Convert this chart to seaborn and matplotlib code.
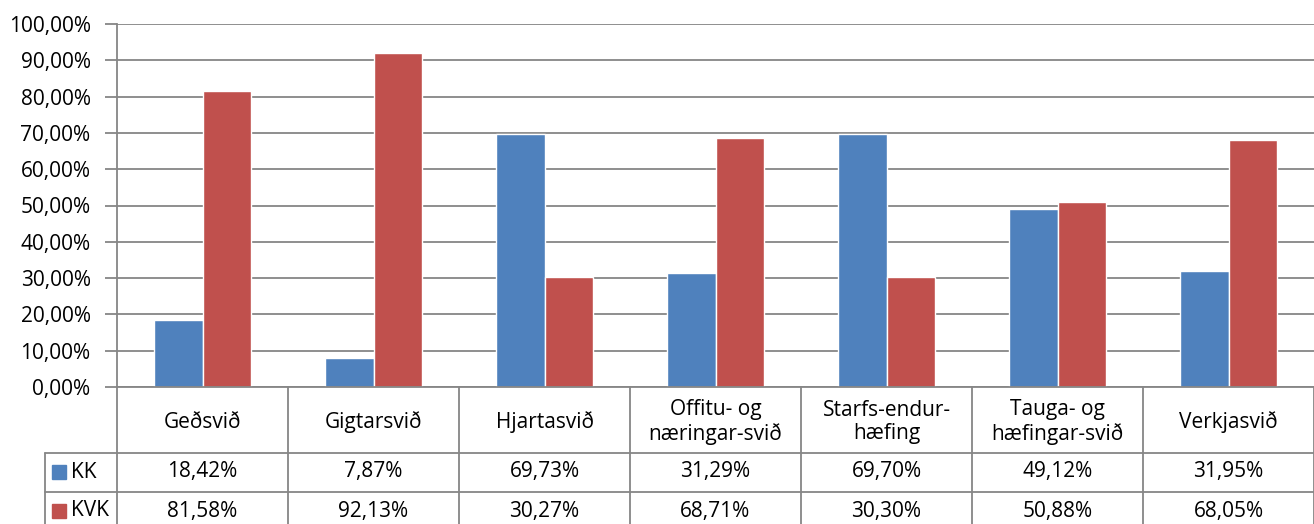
import numpy as np
import pandas as pd
import seaborn as sns
import matplotlib.pyplot as plt

# data
categories = ["Geðsvið", "Gigtarsvið", "Hjartasvið", "Offitu- og\nnæringar-svið",
              "Starfs-endur-\nhæfing", "Tauga- og\nhæfingar-svið", "Verkjasvið"]
kk = [18.42, 7.87, 69.73, 31.29, 69.70, 49.12, 31.95]
kvk = [81.58, 92.13, 30.27, 68.71, 30.30, 50.88, 68.05]
series = ["KK", "KVK"]
colors = ["#4F81BD", "#C0504D"]

df = pd.DataFrame({"cat": categories * 2,
                   "val": kk + kvk,
                   "series": ["KK"] * len(kk) + ["KVK"] * len(kvk)})

sns.set_style("white")
plt.rcParams['font.family'] = ['Open Sans', 'DejaVu Sans']
plt.rcParams['text.color'] = 'black'
plt.rcParams['ytick.labelcolor'] = 'black'
grid_c = "#868686"
fs = 15

W, H = 1314, 524
fig = plt.figure(figsize=(W / 100, H / 100), dpi=100)
left, right, top, bottom = 117, 1314, 24, 387
ax = fig.add_axes([left / W, 1 - bottom / H, (right - left) / W, (bottom - top) / H])

sns.barplot(data=df, x="cat", y="val", hue="series", palette=colors,
            width=0.573, saturation=1, ax=ax, legend=False, gap=0)

ax.set_xlim(-0.5, len(categories) - 0.5)
ax.set_ylim(0, 100)
ax.set_yticks(np.arange(0, 101, 10))
ax.set_yticklabels([f"{v},00%" for v in range(0, 101, 10)], fontsize=fs, color="black")
ax.set_xticks([])
ax.set_xlabel("")
ax.set_ylabel("")
ax.yaxis.grid(True, color=grid_c, lw=1.3)
ax.set_axisbelow(True)
for s in ["top", "right"]:
    ax.spines[s].set_visible(False)
for s in ["left", "bottom"]:
    ax.spines[s].set_color(grid_c)
    ax.spines[s].set_linewidth(1.3)
ax.tick_params(axis="y", left=True, length=9, width=1.3, color=grid_c, pad=10)

# data table below the plot (figure pixel coords)
def fx(px):
    return px / W

def fy(py):
    return 1 - py / H

col_w = (right - left) / len(categories)
row1, row2, row3 = 387, 453, 492
y_kk, y_kvk = 472, 511
line_kw = dict(color=grid_c, lw=1.3, transform=fig.transFigure)
for i in range(len(categories) + 1):
    x = left + i * col_w
    fig.add_artist(plt.Line2D([fx(x), fx(x)], [fy(row1), fy(H)], **line_kw))
fig.add_artist(plt.Line2D([fx(45), fx(45)], [fy(row2), fy(H)], **line_kw))
for y in (row2, row3):
    fig.add_artist(plt.Line2D([fx(45), fx(right)], [fy(y), fy(y)], **line_kw))

for i, c in enumerate(categories):
    cx = left + (i + 0.5) * col_w
    fig.text(fx(cx), fy(422), c, ha="center", va="center",
             fontsize=fs, linespacing=1.15)
    fig.text(fx(cx), fy(y_kk), f"{kk[i]:.2f}%".replace(".", ","),
             ha="center", va="center", fontsize=fs)
    fig.text(fx(cx), fy(y_kvk), f"{kvk[i]:.2f}%".replace(".", ","),
             ha="center", va="center", fontsize=fs)

for name, col, yc in zip(series, colors, [y_kk, y_kvk]):
    fig.add_artist(plt.Rectangle((fx(52), fy(yc + 7)), 14 / W, 14 / H,
                                 color=col, transform=fig.transFigure))
    fig.text(fx(71), fy(yc), name, ha="left", va="center", fontsize=fs)

fig.savefig("out.png", dpi=100)
